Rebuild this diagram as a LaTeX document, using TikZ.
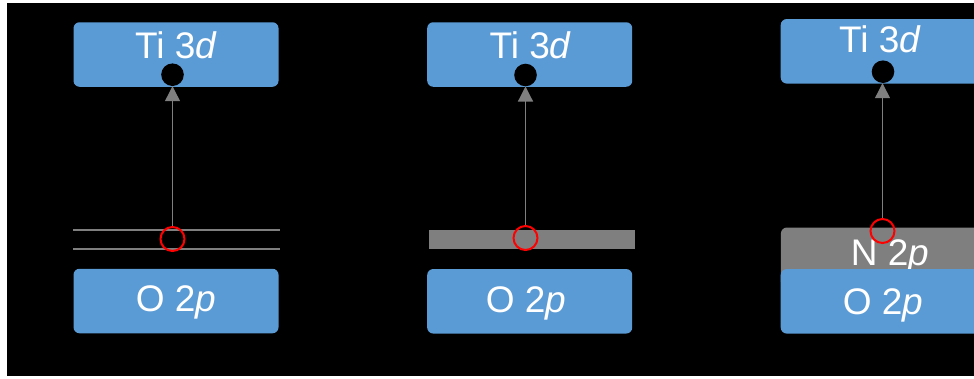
\documentclass[tikz,border=0pt]{standalone}
\usepackage{fontspec}
\setmainfont{Liberation Sans}
\usetikzlibrary{arrows.meta}
\definecolor{boxblue}{HTML}{5B9BD5}
\definecolor{lvlgray}{HTML}{7F7F7F}
\begin{document}
\begin{tikzpicture}[x=1pt,y=-1pt,
 box/.style={fill=boxblue, rounded corners=6pt, minimum width=205pt, minimum height=64.5pt, inner sep=0pt},
 lbl/.style={text=white, font=\fontsize{37}{44}\selectfont, inner sep=0pt, anchor=base},
 dot/.style={circle, fill=black, minimum size=22.6pt, inner sep=0pt},
 hole/.style={circle, draw=red, line width=2pt, minimum size=24pt, inner sep=0pt},
 arr/.style={draw=lvlgray, line width=1.2pt, -{Triangle[length=15pt,width=15pt]}},
 level/.style={draw=lvlgray, line width=1.2pt},
 band/.style={fill=lvlgray, inner sep=0pt, anchor=north west}]
\useasboundingbox (0,0) rectangle (974,378);
\fill[white] (0,0) rectangle (974,378);
\fill[black] (7,3) rectangle (974,376);
\clip (0,0) rectangle (974,378);
% panel 1
\node[box] (ti1) at (176,54.5) {};
\node[lbl] (ti1t) at (176,58) {Ti 3\textit{d}};
\node[box] (o1) at (176,301) {};
\node[lbl] (o1t) at (176,311) {O 2\textit{p}};
\coordinate (l1a) at (73,230);
\coordinate (l1b) at (280,230);
\coordinate (l2a) at (73,249);
\coordinate (l2b) at (280,249);
\draw[level] (l1a) -- (l1b);
\draw[level] (l2a) -- (l2b);
\node[dot] (d1) at (172.5,74.7) {};
\node[hole] (h1) at (172.5,239) {};
\draw[arr] (h1.north) -- (d1.south);
% panel 2
\node[box] (ti2) at (529.7,54.5) {};
\node[lbl] (ti2t) at (530.5,58.5) {Ti 3\textit{d}};
\node[band, minimum width=205.3pt, minimum height=19pt] (b2) at (429,229.3) {};
\node[box] (o2) at (529.7,301.3) {};
\node[lbl] (o2t) at (526,312) {O 2\textit{p}};
\node[dot] (d2) at (525.5,75) {};
\node[hole] (h2) at (525.5,238) {};
\draw[arr] (h2.north) -- (d2.south);
% panel 3
\node[box] (ti3) at (883.2,51.3) {};
\node[lbl] (ti3t) at (880,52.7) {Ti 3\textit{d}};
\node[band, minimum width=220pt, minimum height=60pt, rounded corners=6pt] (b3) at (780.7,227.3) {};
\node[lbl] (n3t) at (890,265) {N 2\textit{p}};
\node[box] (o3) at (883.2,301.3) {};
\node[lbl] (o3t) at (883,314) {O 2\textit{p}};
\node[dot] (d3) at (883,71.7) {};
\node[hole] (h3) at (882.5,231) {};
\draw[arr] (h3.north) -- (h3.north |- d3.south);
\end{tikzpicture}
\end{document}
